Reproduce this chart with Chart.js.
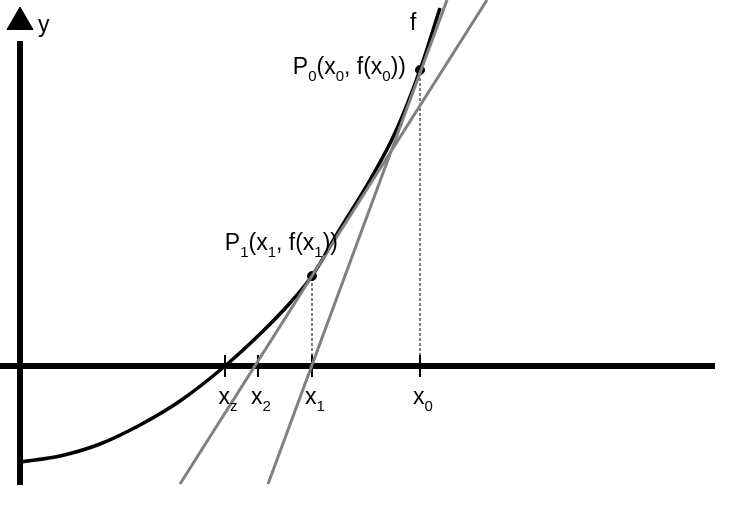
<!DOCTYPE html>
<html><head><meta charset="utf-8">
<script src="https://cdn.jsdelivr.net/npm/chart.js@4"></script>
<style>html,body{margin:0;padding:0;background:#fff}#w{width:756px;height:529px}</style>
</head><body><div id="w"><canvas id="c"></canvas></div>
<script>
// math coordinates: origin at the axes intersection
const curveX = [0, 0.8, 1.6, 2.4, 3.2, 4.1, 4.8, 5.4, 5.84, 6.4, 7.0, 7.5, 8.0, 8.4];
const curveY = [-1.92, -1.8, -1.56, -1.18, -0.7, 0, 0.64, 1.26, 1.8, 2.74, 3.72, 4.66, 5.92, 7.16];
const tangent0 = [[4.96, -2.36], [8.54, 7.32]];
const tangent1 = [[3.2, -2.36], [9.34, 7.32]];
const tickNames = ['z', '2', '1', '0'];
const tickX = [4.1, 4.76, 5.84, 8.0];
const P0 = [8.0, 5.92], P1 = [5.84, 1.8];

const pts = (xs, ys) => xs.map((x, i) => ({x, y: ys[i]}));
const seg = a => a.map(p => ({x: p[0], y: p[1]}));
const ds = [
  {data: seg(tangent0), borderColor: '#808080', borderWidth: 3, pointRadius: 0},
  {data: seg(tangent1), borderColor: '#808080', borderWidth: 3, pointRadius: 0},
  {data: [{x: -0.4, y: 0}, {x: 13.9, y: 0}], borderColor: '#000', borderWidth: 6, pointRadius: 0},
  {data: [{x: 0, y: -2.38}, {x: 0, y: 6.5}], borderColor: '#000', borderWidth: 6, pointRadius: 0},
  {data: [{x: 0, y: 6.88}], pointStyle: 'triangle', pointRadius: 15, backgroundColor: '#000', borderColor: '#000', showLine: false},
  {data: [{x: P0[0], y: 0}, {x: P0[0], y: P0[1]}], borderColor: '#000', borderWidth: 1, borderDash: [3, 2], pointRadius: 0},
  {data: [{x: P1[0], y: 0}, {x: P1[0], y: P1[1]}], borderColor: '#000', borderWidth: 1, borderDash: [3, 2], pointRadius: 0},
  {data: pts(curveX, curveY), borderColor: '#000', borderWidth: 3.5, pointRadius: 0, cubicInterpolationMode: 'monotone'},
  {data: [{x: P0[0], y: P0[1]}, {x: P1[0], y: P1[1]}], showLine: false, pointRadius: 4.5, backgroundColor: '#000', borderColor: '#000'}
];
tickX.forEach(x => ds.push({data: [{x, y: -0.22}, {x, y: 0.22}], borderColor: '#000', borderWidth: 2, pointRadius: 0}));
ds.forEach(d => { d.clip = false; });

function rich(ctx, parts, x, y, align) {
  const big = '23px "Liberation Sans", Arial', small = '15px "Liberation Sans", Arial';
  let w = 0;
  parts.forEach(p => { ctx.font = p[1] ? small : big; w += ctx.measureText(p[0]).width; });
  let cx = align === 'center' ? x - w / 2 : (align === 'right' ? x - w : x);
  parts.forEach(p => {
    ctx.font = p[1] ? small : big;
    ctx.fillText(p[0], cx, p[1] ? y + 7 : y);
    cx += ctx.measureText(p[0]).width;
  });
}
const labels = {
  id: 'labels',
  afterDatasetsDraw(chart) {
    const {ctx, scales: {x, y}} = chart;
    ctx.save(); ctx.fillStyle = '#000'; ctx.textBaseline = 'alphabetic';
    rich(ctx, [['y']], x.getPixelForValue(0) + 18, 32, 'left');
    rich(ctx, [['f']], x.getPixelForValue(7.8), 30, 'left');
    rich(ctx, [['P'], ['0', 1], ['(x'], ['0', 1], [', f(x'], ['0', 1], ['))']], x.getPixelForValue(P0[0]) - 14, y.getPixelForValue(P0[1]) + 4, 'right');
    rich(ctx, [['P'], ['1', 1], ['(x'], ['1', 1], [', f(x'], ['1', 1], ['))']], x.getPixelForValue(P1[0]) + 26, y.getPixelForValue(P1[1]) - 26, 'right');
    tickX.forEach((t, i) => rich(ctx, [['x'], [tickNames[i], 1]], x.getPixelForValue(t) + 3, y.getPixelForValue(0) + 38, 'center'));
    ctx.restore();
  }
};
new Chart(document.getElementById('c'), {
  type: 'line',
  data: {datasets: ds},
  options: {
    responsive: true, maintainAspectRatio: false, animation: false,
    layout: {padding: 0, autoPadding: false},
    plugins: {legend: {display: false}, tooltip: {enabled: false}},
    scales: {
      x: {type: 'linear', min: -0.4, max: 14.72, display: false},
      y: {type: 'linear', min: -3.26, max: 7.32, display: false}
    }
  },
  plugins: [labels]
});
</script></body></html>
